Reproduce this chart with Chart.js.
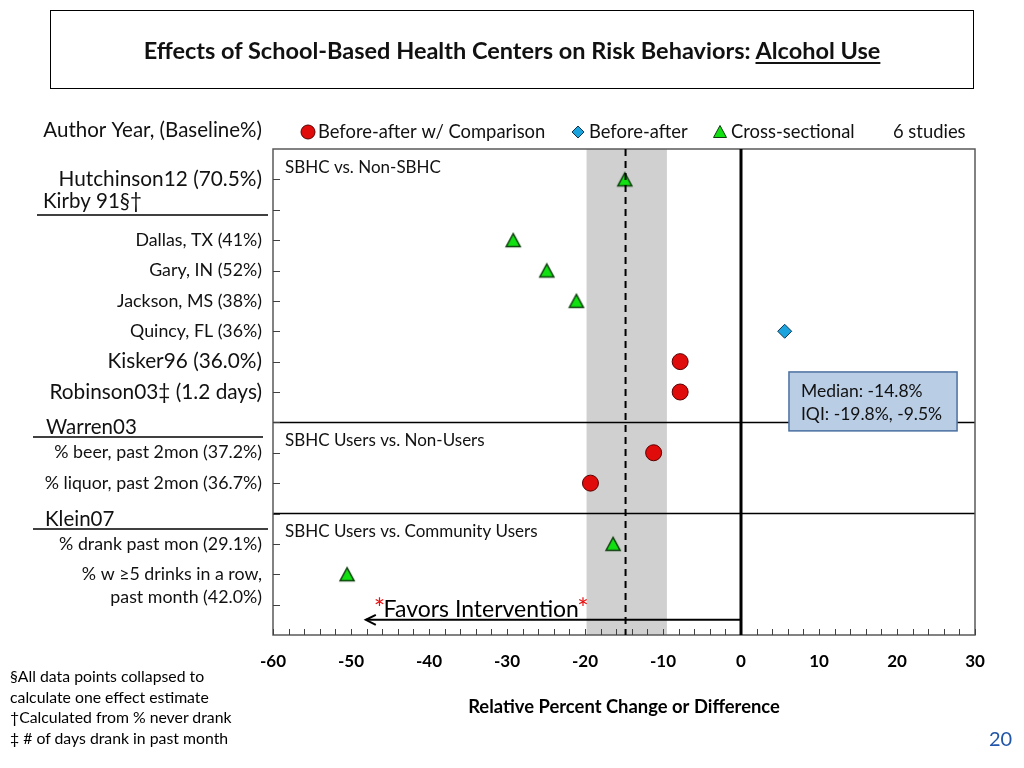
<!DOCTYPE html>
<html>
<head>
<meta charset="utf-8">
<script src="https://cdn.jsdelivr.net/npm/chart.js@4/dist/chart.umd.min.js"></script>
<style>
  body { margin: 0; background: #fff; font-family: Lato, "Open Sans", sans-serif; }
  #wrap { position: relative; width: 1024px; height: 768px; overflow: hidden; }
  #chart { position: absolute; left: 0; top: 0; }
  .titlebox { position: absolute; left: 50px; top: 10px; width: 924px; height: 79px; box-sizing: border-box;
    border: 1px solid #000; display: flex; align-items: center; justify-content: center;
    font-weight: bold; font-size: 23.5px; color: #111; }
  .titlebox u { text-underline-offset: 3px; }
  .notes { position: absolute; left: 10px; top: 666px; font-size: 15.8px; line-height: 20.7px; color: #000; }
  .page { position: absolute; left: 989px; top: 726px; font-size: 20px; color: #2356a8; }
</style>
</head>
<body>
<div id="wrap">
  <canvas id="chart" width="1024" height="768"></canvas>
  <div class="titlebox"><span>Effects of School-Based Health Centers on Risk Behaviors: <u>Alcohol Use</u></span></div>
  <div class="notes">§All data points collapsed to<br>calculate one effect estimate<br>†Calculated from % never drank<br>‡ # of days drank in past month</div>
  <div class="page">20</div>
</div>
<script>
// rows (1 = top) and effect values
const seriesNames = ["Before-after w/ Comparison", "Before-after", "Cross-sectional"];
const circleRows = [7, 8, 10, 11];
const circleValues = [-7.8, -7.8, -11.2, -19.3];
const diamondRows = [6];
const diamondValues = [5.6];
const triangleRows = [1, 3, 4, 5, 13, 14];
const triangleValues = [-14.9, -29.2, -24.9, -21.1, -16.4, -50.5];
const medianValue = -14.8;
const iqiValues = [-19.8, -9.5];
const xTicks = [-60, -50, -40, -30, -20, -10, 0, 10, 20, 30];

const rowLabels = [
  "Hutchinson12 (70.5%)", "", "Dallas, TX (41%)", "Gary, IN (52%)", "Jackson, MS (38%)",
  "Quincy, FL (36%)", "Kisker96 (36.0%)", "Robinson03‡ (1.2 days)", "",
  "% beer, past 2mon (37.2%)", "% liquor, past 2mon (36.7%)", "",
  "% drank past mon (29.1%)", ["% w ≥5 drinks in a row,", "past month (42.0%)"], ""
];
const groupHeads = ["Kirby 91§†", "Warren03", "Klein07"];
const sectionLabels = ["SBHC vs. Non-SBHC", "SBHC Users vs. Non-Users", "SBHC Users vs. Community Users"];
const sectionRows = [0, 9, 12];
const studyCount = "6 studies";

const F = 'Lato, "Open Sans", sans-serif';
const GREEN = "#11e011", GREEN_EDGE = "#0c3d0c";

function toPoints(rows, vals) {
  return rows.map((r, i) => ({ x: vals[i], y: r }));
}

// triangle marker with its box centred on the point (like the original)
function triangleMarker() {
  const c = document.createElement("canvas");
  c.width = 18; c.height = 18;
  const g = c.getContext("2d");
  g.fillStyle = GREEN; g.strokeStyle = GREEN_EDGE; g.lineWidth = 1.5;
  g.beginPath(); g.moveTo(9, 2.5); g.lineTo(16, 15.5); g.lineTo(2, 15.5); g.closePath();
  g.fill(); g.stroke();
  return c;
}

const overlay = {
  id: "overlay",
  beforeDatasetsDraw(chart) {
    const { ctx, chartArea: a, scales: { x, y } } = chart;
    ctx.save();
    // IQI band
    const x1 = x.getPixelForValue(iqiValues[0]), x2 = x.getPixelForValue(iqiValues[1]);
    ctx.fillStyle = "#d0d0d0";
    ctx.fillRect(x1, a.top, x2 - x1, a.bottom - a.top);

    // section separators
    ctx.strokeStyle = "#000";
    ctx.lineWidth = 1.5;
    [9, 12].forEach(r => {
      const py = y.getPixelForValue(r);
      ctx.beginPath(); ctx.moveTo(a.left, py); ctx.lineTo(a.right, py); ctx.stroke();
    });

    // frame
    ctx.strokeStyle = "#595959";
    ctx.lineWidth = 1.5;
    ctx.strokeRect(a.left, a.top, a.right - a.left, a.bottom - a.top);

    // tick marks, inward
    ctx.lineWidth = 1;
    ctx.strokeStyle = "#404040";
    for (let v = -60; v <= 30; v += 2) {
      const px = Math.round(x.getPixelForValue(v)) + 0.5;
      ctx.beginPath(); ctx.moveTo(px, a.bottom); ctx.lineTo(px, a.bottom - 6); ctx.stroke();
    }
    for (let r = 1; r <= 15; r++) {
      const py = Math.round(y.getPixelForValue(r)) + 0.5;
      ctx.beginPath(); ctx.moveTo(a.left, py); ctx.lineTo(a.left + 7, py); ctx.stroke();
    }

    // section labels
    ctx.fillStyle = "#111";
    ctx.font = "17px " + F;
    ctx.textBaseline = "middle";
    ctx.textAlign = "left";
    sectionLabels.forEach((s, i) => {
      ctx.fillText(s, a.left + 12, y.getPixelForValue(sectionRows[i] + 0.6));
    });

    // zero line
    const x0 = x.getPixelForValue(0);
    ctx.strokeStyle = "#000";
    ctx.lineWidth = 3;
    ctx.beginPath(); ctx.moveTo(x0, a.top); ctx.lineTo(x0, a.bottom); ctx.stroke();

    // arrow
    const ay = y.getPixelForValue(15.5);
    const tip = x.getPixelForValue(-48.1);
    ctx.lineWidth = 2;
    ctx.beginPath(); ctx.moveTo(x0, ay); ctx.lineTo(tip, ay); ctx.stroke();
    ctx.beginPath(); ctx.moveTo(tip + 10, ay - 5); ctx.lineTo(tip, ay); ctx.lineTo(tip + 10, ay + 5); ctx.stroke();

    // favors text
    ctx.font = "23px " + F;
    ctx.textAlign = "center";
    ctx.textBaseline = "alphabetic";
    const tx = x.getPixelForValue(-33.3), ty = y.getPixelForValue(15.4);
    ctx.fillStyle = "#000";
    ctx.fillText("Favors Intervention", tx, ty);
    const tw = ctx.measureText("Favors Intervention").width;
    ctx.fillStyle = "#e81010";
    ctx.font = "27px " + F;
    ctx.fillText("*", tx - tw / 2 - 4, ty + 1);
    ctx.fillText("*", tx + tw / 2 + 4, ty + 1);
    ctx.restore();
  },
  afterDatasetsDraw(chart) {
    const { ctx, chartArea: a, scales: { x, y } } = chart;
    ctx.save();
    // median dashed line
    const xm = x.getPixelForValue(medianValue);
    ctx.strokeStyle = "#000";
    ctx.lineWidth = 2;
    ctx.setLineDash([7, 5]);
    ctx.beginPath(); ctx.moveTo(xm, a.top); ctx.lineTo(xm, a.bottom); ctx.stroke();
    ctx.setLineDash([]);

    // median box
    const bx1 = x.getPixelForValue(6.15), bx2 = x.getPixelForValue(27.7);
    const by1 = y.getPixelForValue(7.34), by2 = y.getPixelForValue(9.28);
    ctx.fillStyle = "#b9cde5";
    ctx.fillRect(bx1, by1, bx2 - bx1, by2 - by1);
    ctx.strokeStyle = "#4a6fa0";
    ctx.lineWidth = 1.5;
    ctx.strokeRect(bx1, by1, bx2 - bx1, by2 - by1);
    ctx.fillStyle = "#111";
    ctx.font = "17.5px " + F;
    ctx.textAlign = "left";
    ctx.textBaseline = "middle";
    ctx.fillText("Median: " + medianValue + "%", bx1 + 12, by1 + 19);
    ctx.fillText("IQI: " + iqiValues[0] + "%, " + iqiValues[1] + "%", bx1 + 12, by1 + 42);
    ctx.restore();
  },
  afterDraw(chart) {
    const { ctx, scales: { y } } = chart;
    ctx.save();
    ctx.fillStyle = "#111";
    ctx.textBaseline = "middle";

    // column header
    ctx.textAlign = "right";
    ctx.font = "20.5px " + F;
    ctx.fillText("Author Year, (Baseline%)", 262, 130);

    // row labels
    const bigRows = [1, 7, 8];
    rowLabels.forEach((lab, i) => {
      const r = i + 1;
      if (!lab) return;
      ctx.font = (bigRows.includes(r) ? "20.8px " : "17.8px ") + F;
      if (Array.isArray(lab)) {
        lab.forEach((l, j) => ctx.fillText(l, 262, y.getPixelForValue(r + j * 0.75)));
      } else {
        ctx.fillText(lab, 262, y.getPixelForValue(r));
      }
    });

    // study group heads with underline
    const heads = [
      { x: 43, r: 1.72, u: 2.17, u1: 37, u2: 268 },
      { x: 46, r: 9.18, u: 9.48, u1: 33, u2: 263 },
      { x: 45, r: 12.18, u: 12.51, u1: 33, u2: 268 }
    ];
    ctx.textAlign = "left";
    ctx.font = "20.5px " + F;
    ctx.strokeStyle = "#000";
    ctx.lineWidth = 1.5;
    heads.forEach((h, i) => {
      ctx.fillText(groupHeads[i], h.x, y.getPixelForValue(h.r));
      const uy = y.getPixelForValue(h.u);
      ctx.beginPath(); ctx.moveTo(h.u1, uy); ctx.lineTo(h.u2, uy); ctx.stroke();
    });

    // legend
    const ly = 132;
    ctx.font = "18.4px " + F;
    const ds = chart.data.datasets;
    // circle
    ctx.fillStyle = ds[0].backgroundColor; ctx.strokeStyle = ds[0].borderColor; ctx.lineWidth = 1;
    ctx.beginPath(); ctx.arc(308, ly, 7, 0, Math.PI * 2); ctx.fill(); ctx.stroke();
    // diamond
    ctx.fillStyle = ds[1].backgroundColor; ctx.strokeStyle = ds[1].borderColor;
    ctx.beginPath(); ctx.moveTo(578, ly - 6); ctx.lineTo(584, ly); ctx.lineTo(578, ly + 6); ctx.lineTo(572, ly); ctx.closePath(); ctx.fill(); ctx.stroke();
    // triangle
    ctx.fillStyle = GREEN; ctx.strokeStyle = GREEN_EDGE;
    ctx.beginPath(); ctx.moveTo(720, ly - 6.5); ctx.lineTo(726.5, ly + 5.5); ctx.lineTo(713.5, ly + 5.5); ctx.closePath(); ctx.fill(); ctx.stroke();
    ctx.fillStyle = "#111";
    ctx.fillText(seriesNames[0], 318, ly);
    ctx.fillText(seriesNames[1], 589, ly);
    ctx.fillText(seriesNames[2], 731, ly);
    ctx.fillText(studyCount, 893, ly);
    ctx.restore();
  }
};

new Chart(document.getElementById("chart"), {
  type: "scatter",
  data: {
    datasets: [
      {
        label: seriesNames[0],
        data: toPoints(circleRows, circleValues),
        pointStyle: "circle",
        pointRadius: 8,
        backgroundColor: "#e00b0b",
        borderColor: "#5a0000",
        borderWidth: 1,
      },
      {
        label: seriesNames[1],
        data: toPoints(diamondRows, diamondValues),
        pointStyle: "rectRot",
        pointRadius: 7,
        backgroundColor: "#1aa3dc",
        borderColor: "#0d3550",
        borderWidth: 1,
      },
      {
        label: seriesNames[2],
        data: toPoints(triangleRows, triangleValues),
        pointStyle: triangleMarker(),
        pointRadius: 8,
        backgroundColor: GREEN,
        borderColor: GREEN_EDGE,
        borderWidth: 1.5,
      },
    ],
  },
  options: {
    responsive: false,
    animation: false,
    events: [],
    clip: false,
    layout: { padding: { left: 273, top: 149, right: 49, bottom: 0 } },
    plugins: { legend: { display: false }, tooltip: { enabled: false } },
    scales: {
      x: {
        type: "linear",
        min: -60,
        max: 30,
        afterBuildTicks: (s) => { s.ticks = xTicks.map(v => ({ value: v })); },
        ticks: { color: "#000", padding: 8, font: { family: F, size: 17, weight: "bold" } },
        grid: { display: false },
        border: { display: false },
        title: {
          display: true,
          text: "Relative Percent Change or Difference",
          color: "#000",
          font: { family: F, size: 18.4, weight: "bold" },
          padding: { top: 51, bottom: 50 },
        },
        afterFit: (s) => { s.height = 133; },
      },
      y: { type: "linear", min: 0, max: 16, reverse: true, display: false },
    },
  },
  plugins: [overlay],
});
</script>
</body>
</html>
